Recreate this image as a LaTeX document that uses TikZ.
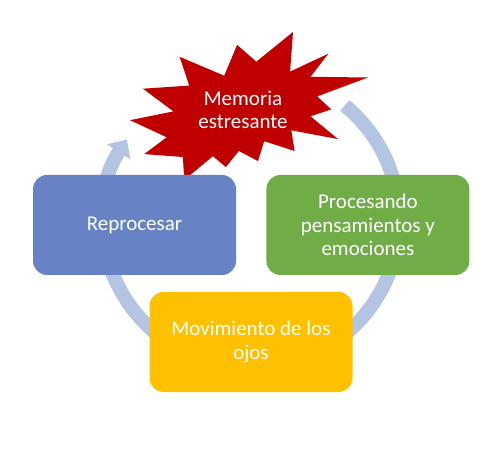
\documentclass[tikz,border=0pt]{standalone}
\usepackage{fontspec}
\setmainfont{Carlito}
\usetikzlibrary{arrows.meta,calc,positioning}
\definecolor{repblue}{RGB}{103,131,198}
\definecolor{procgreen}{RGB}{112,173,71}
\definecolor{movyel}{RGB}{255,192,0}
\definecolor{memred}{RGB}{192,0,0}
\definecolor{cyclebl}{RGB}{180,197,228}

\begin{document}
\begin{tikzpicture}[x=1pt,y=1pt,font=\fontsize{21}{23.5}\selectfont,
    stepbox/.style={rounded corners=14pt,minimum width=203pt,minimum height=100pt,
      inner sep=0pt,align=center,text=white}]
  \useasboundingbox (0,0) rectangle (502,457);
  % cycle arrow behind the boxes
  \coordinate (ctr) at (251,237);
  \draw[cyclebl,line width=14pt,-{Triangle[width=27pt,length=15pt]}]
    ([shift={(50.7:148)}]ctr) arc[start angle=50.7,end angle=-213,radius=148];
  % explosion
  \fill[memred] (256.3,395.3) -- (293,425) -- (290.1,385.4) -- (328.4,403.3)
    -- (310.5,380.2) -- (368,379.5) -- (317.2,360.6) -- (331.3,347.6)
    -- (310.5,340.7) -- (338,317.9) -- (291.3,326.7) -- (294.6,306)
    -- (264.2,315.8) -- (258,295.9) -- (238.8,306) -- (225.9,289.9)
    -- (212.9,300.8) -- (184.2,277) -- (182.9,300) -- (144.2,302.9)
    -- (166.7,319.7) -- (130,336.8) -- (173.4,345.6) -- (142.9,368.3)
    -- (189.2,371.4) -- (179.6,400.2) -- (224.2,381.3) -- (237.1,412.1) -- cycle;
  \node[align=center,text=white] (mem) at (243,347) {Memoria\\estresante};
  % the three steps
  \node[stepbox,fill=repblue] (rep) at (134.5,232) {Reprocesar};
  \node[stepbox,fill=procgreen,right=30pt of rep] (proc) {Procesando\\pensamientos y\\emociones};
  \node[stepbox,fill=movyel] (mov) at (251,115) {Movimiento de los\\ojos};
\end{tikzpicture}
\end{document}
